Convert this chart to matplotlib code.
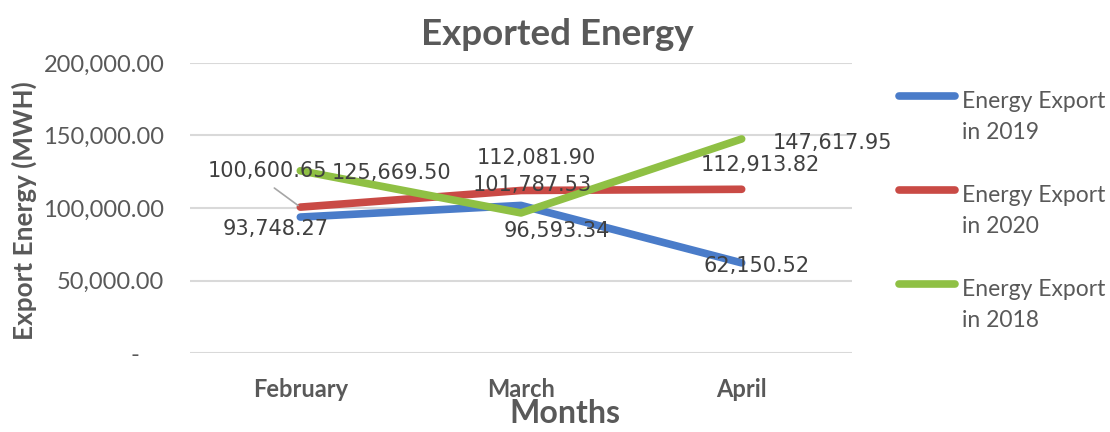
#
# Exported energy per month, three years
#

import matplotlib.pyplot as plt
from matplotlib.lines import Line2D

# Data
months = ["February", "March", "April"]
export_2019 = [93748.27, 101787.53, 62150.52]
export_2020 = [100600.65, 112081.90, 112913.82]
export_2018 = [125669.50, 96593.34, 147617.95]
series_names = ["Energy Export\nin 2019", "Energy Export\nin 2020", "Energy Export\nin 2018"]

# Label offsets in pixels (dx, dy) from each point
offs_2019 = [(-25, -12), (11, 20), (15, -3)]
offs_2020 = [(-33, 36), (15, 32), (19, 24)]
offs_2018 = [(91, -2), (36, -18), (91, -4)]

colors = ["#4a7cc9", "#c94a45", "#8fc044"]
grey = "#595959"
font = "Lato"

fig = plt.figure(figsize=(11.1, 4.32), dpi=100)
ax = fig.add_axes([190 / 1110, 1 - 353 / 432, 662 / 1110, 290 / 432])

x = range(len(months))
all_series = [export_2019, export_2020, export_2018]
all_offs = [offs_2019, offs_2020, offs_2018]
for vals, col in zip(all_series, colors):
    ax.plot(x, vals, color=col, lw=5.5, solid_capstyle="round", zorder=3)

# data labels
for i, (vals, offs) in enumerate(zip(all_series, all_offs)):
    for j, (v, o) in enumerate(zip(vals, offs)):
        kw = {}
        if i == 1 and j == 0:
            kw["arrowprops"] = dict(arrowstyle="-", color="#a6a6a6", lw=1.2,
                                    relpos=(0.48, 0.0), shrinkA=5, shrinkB=2)
        ax.annotate(f"{v:,.2f}", xy=(j, v), xytext=o, textcoords="offset pixels",
                    ha="center", va="center", fontsize=15, color="#404040",
                    family="DejaVu Sans", zorder=4, **kw)

ax.set_xlim(-0.5, 2.5)
ax.set_ylim(0, 200000)
ax.set_yticks([0, 50000, 100000, 150000, 200000])
# zero shows as a dash set in from the right, like the accounting format
ax.set_yticklabels(["-\u00a0\u00a0\u00a0\u00a0" if t == 0 else f"{t:,.2f}" for t in ax.get_yticks()],
                   fontsize=17, color=grey, family=font)
ax.set_xticks(list(x))
ax.set_xticklabels(months, fontsize=17, fontweight="bold", color=grey, family=font)
ax.tick_params(axis="both", length=0)
ax.tick_params(axis="y", pad=18.5)
ax.tick_params(axis="x", pad=18)
ax.grid(axis="y", color="#d9d9d9", lw=1.5)
ax.set_axisbelow(True)
for s in ax.spines.values():
    s.set_visible(False)

fig.text(557 / 1110, 1 - 45 / 432, "Exported Energy", ha="center", va="baseline",
         fontsize=26.5, fontweight="bold", color=grey, family=font)
fig.text(565 / 1110, 1 - 423 / 432, "Months", ha="center", va="baseline",
         fontsize=23, fontweight="bold", color=grey, family=font)
fig.text(24 / 1110, 1 - 211 / 432, "Export Energy (MWH)", ha="center", va="center",
         rotation=90, fontsize=18.8, fontweight="bold", color=grey, family=font)

# legend drawn by hand so the line sits on the first text row
leg_y = [96, 190, 284]
for name, col, yy in zip(series_names, colors, leg_y):
    yf = 1 - yy / 432
    fig.add_artist(Line2D([899 / 1110, 955 / 1110], [yf, yf], color=col, lw=5.5,
                          solid_capstyle="round"))
    fig.text(962 / 1110, yf + 5 / 432, name, ha="left", va="top", fontsize=16.5,
             color=grey, family=font, linespacing=1.6)

fig.savefig("out.png", dpi=100)
